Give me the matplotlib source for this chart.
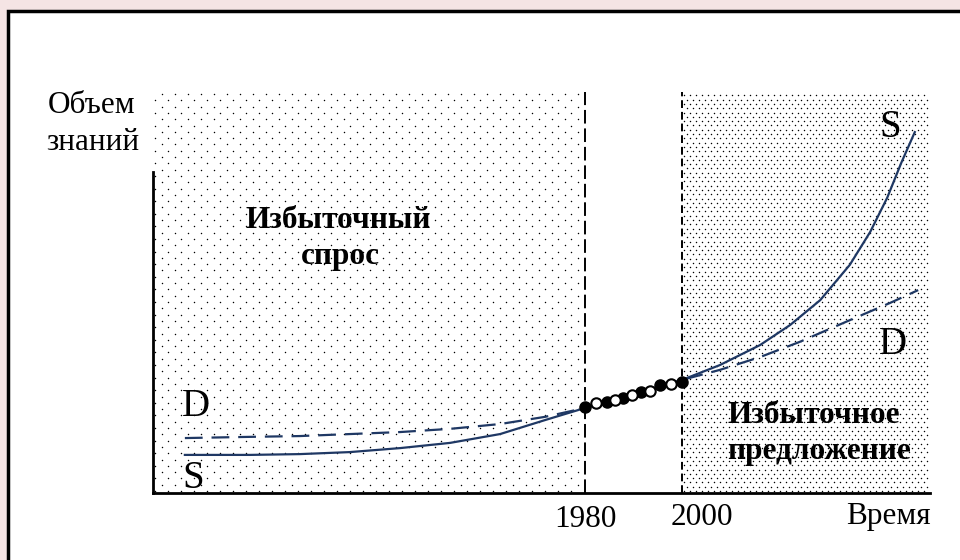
import numpy as np
import matplotlib.pyplot as plt
from matplotlib.patches import Rectangle

# supply S (solid) and demand D (dashed), volume of knowledge vs time
s_years = [1897.5, 1910.9, 1921.2, 1931.5, 1941.9, 1952.2, 1962.5, 1971.8, 1980.0,
           2000.0, 2007.8, 2016.1, 2022.3, 2028.5, 2034.6, 2038.8, 2042.3, 2045.2, 2048.0]
s_vals = [9.5, 9.5, 9.7, 10.2, 11.2, 12.5, 14.7, 18.2, 21.2,
          28.2, 31.9, 36.9, 41.9, 48.1, 56.9, 65.1, 73.6, 82.3, 90.0]
d_years = [1897.5, 1910.9, 1921.2, 1941.9, 1952.2, 1962.5, 1971.8, 1980.0,
           2000.0, 2007.8, 2016.1, 2024.3, 2034.6, 2042.9, 2048.7]
d_vals = [13.7, 14.0, 14.2, 15.2, 16.0, 17.2, 19.0, 21.2,
          28.2, 30.7, 33.9, 37.7, 43.1, 47.4, 50.6]

# transition points between 1980 and 2000
mid_years = [1980.0, 1982.3, 1984.5, 1986.2, 1987.8, 1989.7, 1991.5, 1993.4, 1995.5, 1997.7, 2000.0]
mid_vals = [21.4, 22.4, 22.7, 23.2, 23.7, 24.4, 25.2, 25.4, 27.0, 27.2, 27.7]

ticks = [1980, 2000]
tick_labels = ["1980", "2000"]

plt.rcParams['font.family'] = ['Liberation Serif', 'DejaVu Serif']

W, H = 960, 560
fig = plt.figure(figsize=(9.6, 5.6), dpi=100, facecolor='#f5e4e4')
fig.patches.append(Rectangle((8/W, -0.1), 1.1, 1.1 - 11/H, transform=fig.transFigure,
                             facecolor='white', edgecolor='black', lw=2.5, zorder=-5))

ax_l, ax_b, ax_w, ax_h = 153, 67, 777, 401
ax = fig.add_axes([ax_l/W, ax_b/H, ax_w/W, ax_h/H])
ax.set_zorder(2)
ax.patch.set_alpha(0)
px_per_year = 97/20.0
x0 = 1980 - (585-153)/px_per_year
x1 = 2000 + (930-682)/px_per_year
ax.set_xlim(x0, x1)
ax.set_ylim(0, 100)

def dots(xa, xb, dx, dy):
    # dotted texture, spacing given in pixels
    xs, ys = [], []
    width_px = (xb - xa)*px_per_year
    row = 0
    y = 2.0
    while y < ax_h:
        off = (dx/2.0) if row % 2 else 0.0
        x = 2.0 + off
        while x < width_px - 1:
            xs.append(xa + x/px_per_year)
            ys.append(y/ax_h*100)
            x += dx
        y += dy
        row += 1
    ax.scatter(xs, ys, s=1.1, color='black', linewidths=0, zorder=1)

dots(x0, 1980, 13.0, 6.3)
dots(2000, x1 - 1/px_per_year, 6.0, 4.3)

ax.plot([1980, 1980], [0, 100], color='black', lw=1.4, dashes=(7, 2.5), zorder=2)
ax.plot([2000, 2000], [0, 100], color='black', lw=1.4, dashes=(4, 2), zorder=2)

navy = '#1f3864'
ax.plot(s_years, s_vals, color=navy, lw=1.6, zorder=3, solid_joinstyle='round')
ax.plot(d_years, d_vals, color=navy, lw=1.6, dashes=(8, 4), zorder=3)
ax.plot(mid_years[::2], mid_vals[::2], 'o', color='black', ms=8, zorder=4)
ax.plot(mid_years[1::2], mid_vals[1::2], 'o', mfc='white', mec='black', mew=1.5, ms=7.5, zorder=4)

for sp in ['top', 'right']:
    ax.spines[sp].set_visible(False)
ax.spines['left'].set_linewidth(2)
ax.spines['bottom'].set_linewidth(2)
ax.spines['left'].set_bounds(0, 80)
ax.set_xticks(ticks)
ax.set_xticklabels([])
ax.tick_params(length=0)
ax.set_yticks([])

def ftext(x, y, s, **kw):
    fig.text(x/W, 1 - y/H, s, zorder=5, **kw)

ftext(585, 527, tick_labels[0], fontsize=22.5, ha='center', va='baseline')
ftext(702, 525, tick_labels[1], fontsize=22.5, ha='center', va='baseline')
ftext(931, 524, "Время", fontsize=22.5, ha='right', va='baseline')
ftext(48, 113, "Объем", fontsize=22.5, ha='left', va='baseline')
ftext(46, 150, "знаний", fontsize=22.5, ha='left', va='baseline')

ftext(338, 228, "Избыточный", fontsize=22.5, fontweight='bold', ha='center', va='baseline')
ftext(340, 264, "спрос", fontsize=22.5, fontweight='bold', ha='center', va='baseline')
ftext(727, 423, "Избыточное", fontsize=22.5, fontweight='bold', ha='left', va='baseline')
ftext(727, 459, "предложение", fontsize=22.5, fontweight='bold', ha='left', va='baseline')

ftext(182, 416, "D", fontsize=28, ha='left', va='baseline')
ftext(182, 488, "S", fontsize=28, ha='left', va='baseline')
ftext(879, 137, "S", fontsize=28, ha='left', va='baseline')
ftext(879, 354, "D", fontsize=28, ha='left', va='baseline')

fig.savefig("out.png", dpi=100, facecolor=fig.get_facecolor())
